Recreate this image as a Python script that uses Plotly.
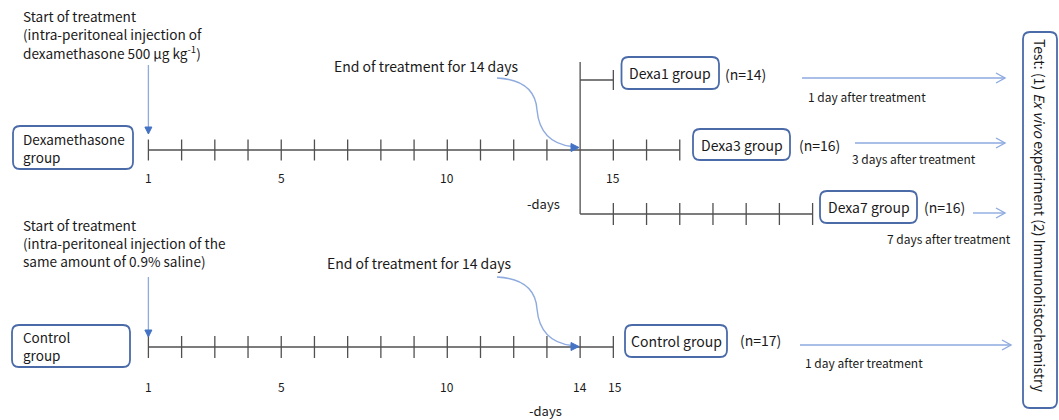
import plotly.graph_objects as go

# ---------------- data ----------------
dexa_main_tick_days = [1, 2, 3, 4, 5, 6, 7, 8, 9, 10, 11, 12, 13, 15, 16, 17]
dexa1_tick_days = [15]
dexa7_tick_days = [15, 16, 17, 18, 19, 20, 21]
control_tick_days = [1, 2, 3, 4, 5, 6, 7, 8, 9, 10, 11, 12, 13, 14, 15]
dexa_label_days = [1, 5, 10, 15]
control_label_days = [1, 5, 10, 14, 15]
treatment_end_day = 14
group_names = ["Dexa1 group", "Dexa3 group", "Dexa7 group", "Control group"]
group_n = [14, 16, 16, 17]
group_last_day = [15, 17, 21, 15]
after_labels = ["1 day after treatment", "3 days after treatment",
                "7 days after treatment", "1 day after treatment"]
start_lines_dexa = ["Start of treatment", "(intra-peritoneal injection of",
                    "dexamethasone 500 \u03bcg kg<sup>-1</sup>)"]
start_lines_ctrl = ["Start of treatment", "(intra-peritoneal injection of the",
                    "same amount of 0.9% saline)"]
row_lines_dexa = ["Dexamethasone", "group"]
row_lines_ctrl = ["Control", "group"]
end_text = "End of treatment for 14 days"
test_text = "Test: (1) <i>Ex vivo</i> experiment (2) Immunohistochemistry"

# ---------------- layout geometry ----------------
W, H = 1059, 420
DAY1_PX = 148.4
PX_PER_DAY = 33.21
X0 = 1 - DAY1_PX / PX_PER_DAY
X1 = X0 + W / PX_PER_DAY
DPP = 1 / PX_PER_DAY  # days per pixel


def p2d(p):
    return X0 + p * DPP


LINE = "#505050"
BLUE_BOX = "#4a6aa8"
BLUE_ARROW = "#8eaadf"
BLUE_HEAD = "#4472c4"
TXT = "#1a1a1a"
FONT = "Noto Sans CJK KR"

Y_DEXA1, Y_MAIN, Y_DEXA7, Y_CTRL = 80, 150, 214, 347

shapes = []
annotations = []


def seg(x0, y0, x1, y1, color=LINE, width=1.3):
    shapes.append(dict(type="line", xref="x", yref="y", x0=x0, y0=y0, x1=x1, y1=y1,
                       line=dict(color=color, width=width)))


def path(d, color, width=1.3, fill=None):
    s = dict(type="path", xref="x", yref="y", path=d, line=dict(color=color, width=width))
    if fill:
        s["fillcolor"] = fill
    shapes.append(s)


def rounded_rect(x0, x1, y0, y1, r=7, color=BLUE_BOX, width=1.8):
    rx = r * DPP
    ry = r
    d = (f"M {x0+rx},{y0} L {x1-rx},{y0} Q {x1},{y0} {x1},{y0+ry} "
         f"L {x1},{y1-ry} Q {x1},{y1} {x1-rx},{y1} L {x0+rx},{y1} "
         f"Q {x0},{y1} {x0},{y1-ry} L {x0},{y0+ry} Q {x0},{y0} {x0+rx},{y0} Z")
    path(d, color, width, fill="white")


def text(x, y, t, size=13, anchor="left", angle=0, color=TXT):
    annotations.append(dict(x=x, y=y, xref="x", yref="y", text=t, showarrow=False,
                            xanchor=anchor, yanchor="middle", align="left",
                            textangle=angle, font=dict(family=FONT, size=size, color=color)))


def lines(x, y0, step, items, size):
    for i, t in enumerate(items):
        text(x, y0 + i * step, t, size=size)


def head_right(xd, y, color=BLUE_HEAD):
    L, hw = 8 * DPP, 4
    path(f"M {xd},{y} L {xd-L},{y-hw} L {xd-L},{y+hw} Z", color, 1, fill=color)


def head_down(xd, y, color=BLUE_HEAD):
    hw, L = 3.5 * DPP, 7
    path(f"M {xd},{y} L {xd-hw},{y-L} L {xd+hw},{y-L} Z", color, 1, fill=color)


def open_arrow(xa, xb, y, color=BLUE_ARROW):
    seg(xa, y, xb, y, color, 1.4)
    L, hw = 9 * DPP, 5
    path(f"M {xb-L},{y-hw} L {xb},{y} L {xb-L},{y+hw}", color, 1.4)


def curve_arrow(dy):
    pts = [(497, 78), (535, 80), (537, 110), (540, 143), (572, 146.5)]
    (a, b), (c, d), (e, f), (g, h), (i, j) = pts
    dd = (f"M {p2d(a)},{b+dy} Q {p2d(c)},{d+dy} {p2d(e)},{f+dy} "
          f"Q {p2d(g)},{h+dy} {p2d(i)},{j+dy}")
    path(dd, BLUE_ARROW, 1.4)
    head_right(p2d(579), 147.5 + dy)


# ---- Dexamethasone timeline ----
seg(1, Y_MAIN, group_last_day[1], Y_MAIN)
for d in dexa_main_tick_days:
    seg(d, Y_MAIN - 10.5, d, Y_MAIN + 10.5)
seg(treatment_end_day, 62, treatment_end_day, Y_DEXA7)
seg(treatment_end_day, Y_DEXA1, group_last_day[0], Y_DEXA1)
for d in dexa1_tick_days:
    seg(d, Y_DEXA1 - 10, d, Y_DEXA1 + 10)
seg(treatment_end_day, Y_DEXA7, group_last_day[2], Y_DEXA7)
for d in dexa7_tick_days:
    seg(d, Y_DEXA7 - 11, d, Y_DEXA7 + 11)
for d in dexa_label_days:
    text(d, 177, str(d), size=12, anchor="center")
text(p2d(543), 203, "-days", size=13, anchor="center")

# ---- Control timeline ----
seg(1, Y_CTRL, control_tick_days[-1], Y_CTRL)
for d in control_tick_days:
    seg(d, Y_CTRL - 11, d, Y_CTRL + 11)
for d in control_label_days:
    text(d + (0.05 if d == 15 else 0), 386, str(d), size=12, anchor="center")
text(p2d(545), 410, "-days", size=13, anchor="center")

# ---- row boxes and start annotations ----
rounded_rect(p2d(13), p2d(133), 126, 169)
lines(p2d(21), 139, 18, row_lines_dexa, 13.5)
rounded_rect(p2d(12), p2d(130), 325, 367)
lines(p2d(21), 336.5, 18, row_lines_ctrl, 13.5)

lines(p2d(21), 16, 18.2, start_lines_dexa, 13.6)
lines(p2d(21), 224.5, 18.2, start_lines_ctrl, 13.6)
seg(1, 65, 1, 128, BLUE_ARROW, 1.3)
head_down(1, 134)
seg(1, 277, 1, 331, BLUE_ARROW, 1.3)
head_down(1, 337)

text(p2d(332), 66, end_text, size=14)
curve_arrow(0)
text(p2d(325), 263, end_text, size=14)
curve_arrow(199)

# ---- group boxes ----
box_px = [(621.5, 719, 57, 89), (693, 790, 129, 160), (820, 917, 191, 223), (625, 727, 325, 357)]
n_px = [(723, 74), (797, 145), (922, 207), (738, 340)]
arrow_px = [(802, 1005, 78), (855, 1005, 143), (973, 1005, 213), (800, 1011, 345)]
after_px = [(806, 96), (850, 158), (885, 238), (803, 362)]
for k, name in enumerate(group_names):
    bx0, bx1, by0, by1 = box_px[k]
    rounded_rect(p2d(bx0), p2d(bx1), by0, by1)
    text((p2d(bx0) + p2d(bx1)) / 2, (by0 + by1) / 2, name, size=14, anchor="center")
    text(p2d(n_px[k][0]), n_px[k][1], f"(n={group_n[k]})", size=14)
    xa, xb, ya = arrow_px[k]
    open_arrow(p2d(xa), p2d(xb), ya)
    text(p2d(after_px[k][0]), after_px[k][1], after_labels[k], size=12)

# ---- test box ----
rounded_rect(p2d(1023), p2d(1057), 32, 408)
text(p2d(1040), 216, test_text, size=14, anchor="center", angle=90)

fig = go.Figure()
fig.update_layout(
    width=W, height=H, margin=dict(l=0, r=0, t=0, b=0),
    paper_bgcolor="white", plot_bgcolor="white",
    xaxis=dict(range=[X0, X1], visible=False, fixedrange=True),
    yaxis=dict(range=[H, 0], visible=False, fixedrange=True),
    shapes=shapes, annotations=annotations, showlegend=False,
)
fig.write_html("out.html", config=dict(displayModeBar=False),
               post_script="document.body.style.margin='0px';document.body.style.overflow='hidden';")
